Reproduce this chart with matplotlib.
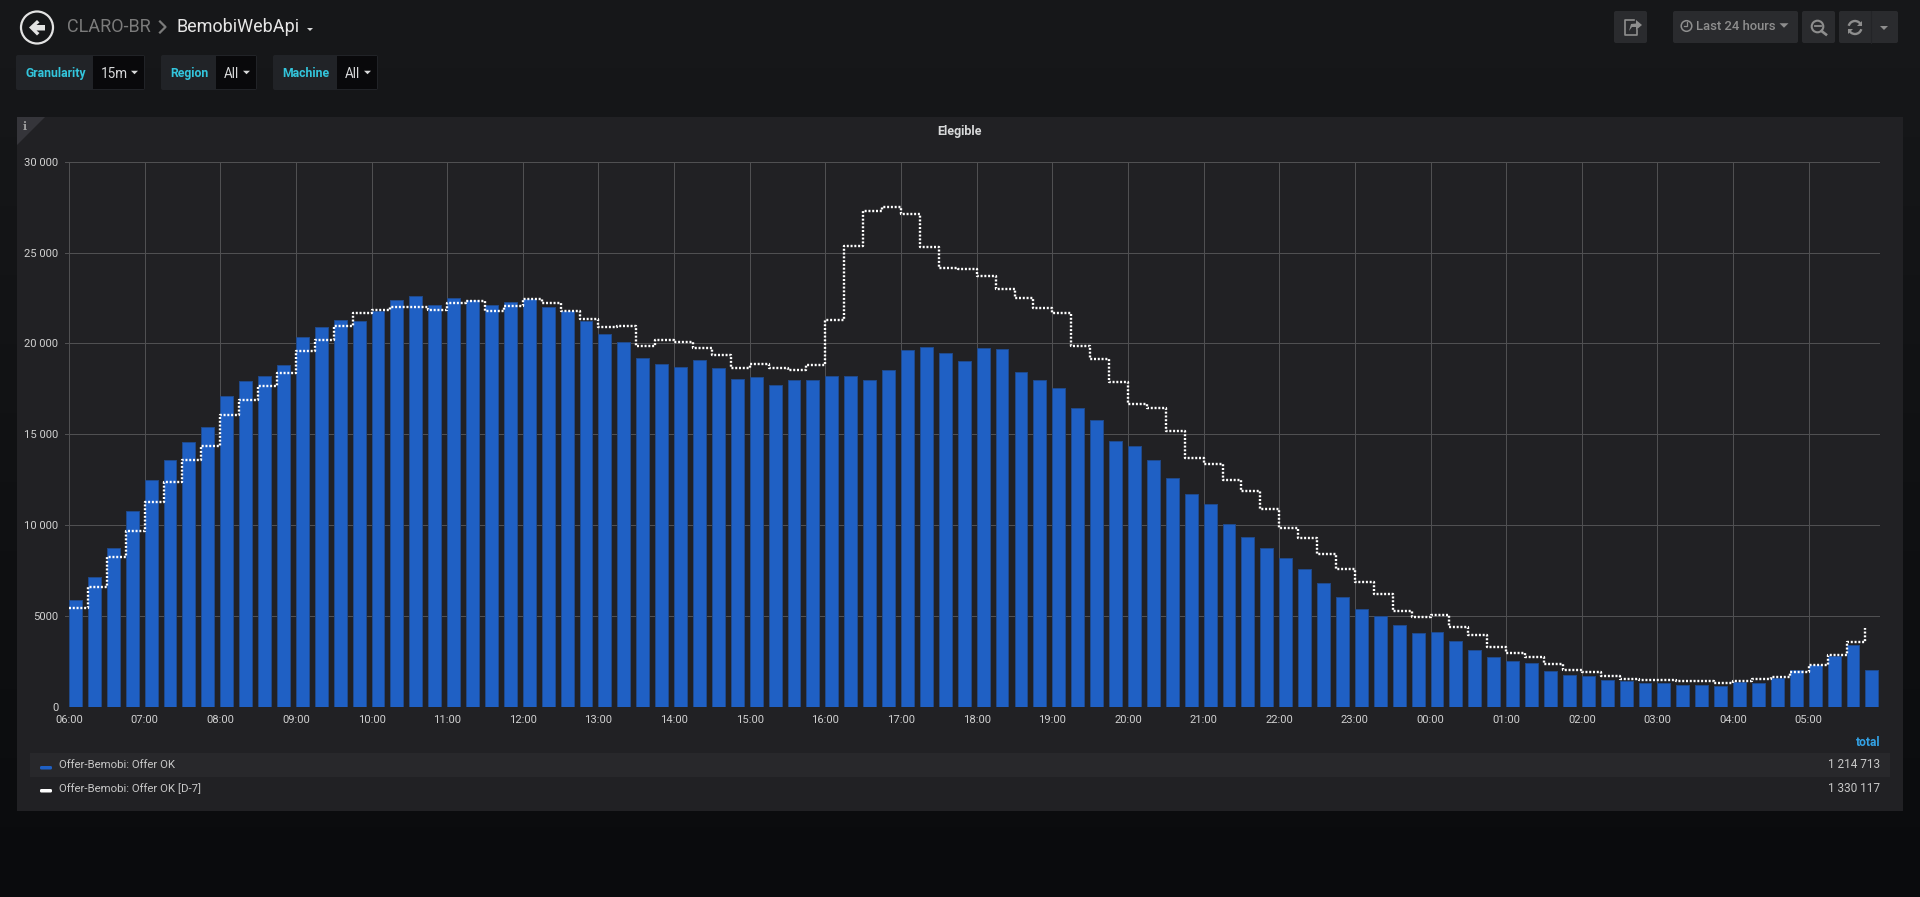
import numpy as np
import matplotlib
matplotlib.use("Agg")
import matplotlib.pyplot as plt
from matplotlib.patches import Rectangle, FancyBboxPatch, Polygon, Circle, Arc

offer_ok = [5855,7140,8755,10775,12463,13601,14574,15400,17125,17951,18226,18832,20374,20888,21310,21255,
            21787,22411,22595,22136,22522,22375,22118,22264,22430,21990,21770,21218,20539,20080,19181,18869,
            18685,19070,18667,18043,18135,17694,17987,17970,18226,18208,18006,18520,19622,19787,19493,19053,
            19732,19695,18447,17970,17547,16446,15767,14648,14335,13564,12591,11692,11178,10058,9361,8755,
            8186,7581,6791,6020,5360,4993,4515,4075,4130,3598,3139,2717,2496,2386,1982,1744,
            1670,1450,1413,1285,1303,1211,1193,1120,1358,1322,1560,2000,2276,2772,3377,2000]
offer_ok_d7 = [5433,6571,8223,9673,11252,12353,13583,14372,16079,16905,17639,18392,19603,20190,20943,21659,
               21861,22026,21989,21824,22228,22320,21787,22063,22430,22209,21787,21347,20906,20943,19879,20209,
               20099,19769,19346,18630,18887,18667,18538,18795,21310,25348,27312,27533,27147,25293,24132,24077,
               23715,22999,22521,21952,21695,19860,19163,17877,16666,16465,15198,13711,13362,12481,11894,10884,
               9857,9269,8388,7580,6883,6186,5286,4956,5048,4368,3946,3285,2973,2735,2368,2019,
               1890,1689,1523,1487,1450,1395,1395,1322,1413,1542,1652,1909,2294,2845,3561,4350]
hour_labels = ["06:00","07:00","08:00","09:00","10:00","11:00","12:00","13:00","14:00","15:00","16:00","17:00",
               "18:00","19:00","20:00","21:00","22:00","23:00","00:00","01:00","02:00","03:00","04:00","05:00"]
y_ticks = [0, 5000, 10000, 15000, 20000, 25000, 30000]
y_labels = ["0", "5000", "10 000", "15 000", "20 000", "25 000", "30 000"]
series_names = ["Offer-Bemobi: Offer OK", "Offer-Bemobi: Offer OK [D-7]"]
series_totals = ["1 214 713", "1 330 117"]

W, H = 1920, 897
BLUE, WHITE = "#1f60c4", "#ffffff"
TEAL = "#33c5dc"
plt.rcParams["font.family"] = ["Roboto", "DejaVu Sans"]
def fs(px): return px * 72 / 100
fig = plt.figure(figsize=(W / 100, H / 100), dpi=100)

ui = fig.add_axes([0, 0, 1, 1], zorder=0)
ui.set_xlim(0, W); ui.set_ylim(H, 0); ui.axis("off")
top = np.array([0x17, 0x18, 0x1a]); bot = np.array([0x0a, 0x0b, 0x0d])
grad = np.linspace(0, 1, H)[:, None, None] * (bot - top) + top
ui.imshow(grad.astype(np.uint8), extent=(0, W, H, 0), aspect="auto", zorder=0, interpolation="bilinear")
ui.set_xlim(0, W); ui.set_ylim(H, 0)

def box(x0, y0, x1, y1, color, r=2, z=1):
    ui.add_patch(FancyBboxPatch((x0 + r, y0 + r), x1 - x0 - 2 * r, y1 - y0 - 2 * r,
                                boxstyle=f"round,pad={r},rounding_size={r}", fc=color, ec="none", zorder=z))
def txt(x, y, s, size, color, ha="left", **kw):
    ui.text(x, y + 1, s, fontsize=fs(size), color=color, ha=ha, va="center", zorder=5, **kw)
def caret(cx, cy, w, h, color):
    ui.add_patch(Polygon([(cx - w / 2, cy - h / 2), (cx + w / 2, cy - h / 2), (cx, cy + h / 2)], fc=color, ec="none", zorder=5))

# panel
ui.add_patch(Rectangle((17, 117), 1886, 694, fc="#212124", ec="none", zorder=1))
ui.add_patch(Polygon([(17, 117), (45, 117), (17, 145)], fc="#35353a", ec="none", zorder=2))
txt(25, 125, "i", 11, "#a0a0a0", ha="center", weight="bold", family="DejaVu Serif")
txt(959.5, 130.5, "Elegible", 12.5, "#d8d9da", ha="center", weight="bold")

# header
ui.add_patch(Circle((37, 27.5), 16, fc="none", ec="#e3e3e3", lw=1.6, zorder=5))
ui.add_patch(Polygon([(29, 27.5), (37, 20), (39.5, 22.5), (36.5, 25), (45, 25), (45, 30.5), (36.5, 30.5), (39.5, 33), (37, 35.5)],
                     fc="#e3e3e3", ec="none", zorder=5))
txt(67, 26.5, "CLARO-BR", 18, "#7b7b7b")
ui.plot([160, 165.5, 160], [21.5, 27, 32.5], color="#7b7b7b", lw=1.6, zorder=5)
txt(176, 26.5, "BemobiWebApi", 18, "#e6e6e6")
caret(310, 29.5, 6, 3, "#d8d9da")

# template variables
for x0, x1, x2, lab, val in [(16, 93, 145, "Granularity", "15m"), (161, 216, 257, "Region", "All"), (273, 337, 378, "Machine", "All")]:
    box(x0, 55, x2, 90, "#212327")
    ui.add_patch(Rectangle((x1, 56), x2 - x1 - 1, 33, fc="#09090b", ec="none", zorder=2))
    txt(x0 + 9, 72.5, lab, 12.2, TEAL, weight="bold")
    txt(x1 + 8, 73, val, 13.5, "#d8d9da")
    caret(x2 - 10.5, 72.5, 7, 3.5, "#d8d9da")

# toolbar
BTN, ICON = "#2a2b2e", "#8e8e8e"
box(1614, 11, 1647, 43, BTN)
box(1673, 11, 1798, 43, BTN)
box(1802, 11, 1835, 43, BTN)
box(1839, 11, 1898, 43, BTN)
ui.plot([1871, 1871], [11, 43], color="#232427", lw=0.8, zorder=3)
txt(1696, 26, "Last 24 hours", 13, ICON, weight="medium")
ui.add_patch(Circle((1686.5, 26), 5.3, fc="none", ec=ICON, lw=1.1, zorder=5))
ui.plot([1686.5, 1686.5, 1683.5], [22.5, 26.5, 26.5], color=ICON, lw=0.9, zorder=5)
caret(1784, 25.5, 9, 4.5, ICON)
ui.add_patch(Circle((1817.5, 26.5), 5.8, fc="none", ec=ICON, lw=1.5, zorder=5))
ui.plot([1814.5, 1820.5], [26.5, 26.5], color=ICON, lw=1.3, zorder=5)
ui.plot([1821.5, 1826], [31, 34.5], color=ICON, lw=1.9, zorder=5)
ui.add_patch(Arc((1855, 27.5), 13, 13, theta1=195, theta2=340, ec=ICON, lw=1.7, zorder=5))
ui.add_patch(Arc((1855, 27.5), 13, 13, theta1=15, theta2=160, ec=ICON, lw=1.7, zorder=5))
ui.add_patch(Polygon([(1857, 26), (1862, 26), (1862, 21)], fc=ICON, ec="none", zorder=5))
ui.add_patch(Polygon([(1853, 29), (1848, 29), (1848, 34)], fc=ICON, ec="none", zorder=5))
caret(1884, 28, 8, 4, ICON)
# share
ui.plot([1634, 1625, 1625, 1637, 1637], [20, 20, 35, 35, 30], color=ICON, lw=1.2, zorder=5)
ui.add_patch(Polygon([(1629, 31), (1631, 24), (1636, 23.5), (1636, 20), (1642, 25), (1636, 30), (1636, 27), (1632, 27)], fc=ICON, ec="none", zorder=5))

# legend
ui.add_patch(Rectangle((30, 753), 1860, 24, fc="#28282b", ec="none", zorder=2))
txt(1880, 741.5, "total", 12, "#33a2e5", ha="right", weight="bold")
for yc, name, total, col in zip([764, 788], series_names, series_totals, [BLUE, WHITE]):
    box(40, yc + 2 - (yc == 788) * 1, 52, yc + 5.5 - (yc == 788) * 1, col, r=1.4, z=3)
    txt(59, yc - 0.5, name, 11.4, "#c8c8c8")
    txt(1880, yc - 0.5, total, 11.8, "#c8c8c8", ha="right")

# chart
ORIGIN = 69.0
L, R, T, B = 64.6, 1880.3, 161.8, 706.6
ax = fig.add_axes([L / W, 1 - B / H, (R - L) / W, (B - T) / H], zorder=2)
ax.patch.set_alpha(0)
px_per_min = 75.64 / 60
ax.set_xlim((L - ORIGIN) / px_per_min, (R - ORIGIN) / px_per_min)
ax.set_ylim(0, 30000)
minutes = np.arange(len(offer_ok)) * 15
ax.bar(minutes, offer_ok, width=12.9 / px_per_min, align="edge", color=BLUE, edgecolor="#204a8c", linewidth=0.7, zorder=2)
ax.plot(minutes, offer_ok_d7, drawstyle="steps-post", color=WHITE, lw=1.7, ls=(0, (0.85, 0.75)), zorder=3)
ax.set_xticks(np.arange(len(hour_labels)) * 60, hour_labels)
ax.set_yticks(y_ticks, y_labels)
ax.grid(True, color="#505052", lw=0.72)
ax.set_axisbelow(True)
for s in ax.spines.values():
    s.set_visible(False)
ax.tick_params(length=0, labelsize=fs(11.2), labelcolor="#d0d0d0")
ax.tick_params(axis="x", pad=6)
ax.tick_params(axis="y", pad=4.4)
fig.savefig("out.png", dpi=100)
